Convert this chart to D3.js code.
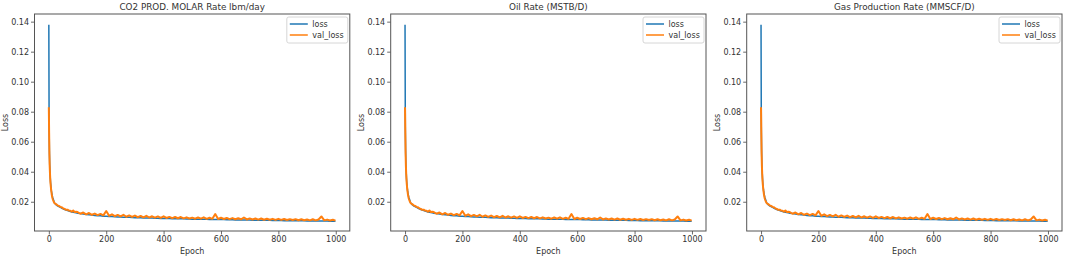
<!DOCTYPE html>
<html>
<head>
<meta charset="utf-8">
<script src="https://cdn.jsdelivr.net/npm/d3@7"></script>
<style>
  body { margin: 0; background: #fff; }
  svg text { font-family: "DejaVu Sans", sans-serif; fill: #333; }
</style>
</head>
<body>
<div id="vizcontainer"></div>
<script>
const width = 1065,
  height = 257;

const titles = ['CO2 PROD. MOLAR Rate lbm/day', 'Oil Rate (MSTB/D)', 'Gas Production Rate (MMSCF/D)'];
const seriesNames = ['loss', 'val_loss'];
const colors = ['#1f77b4', '#ff7f0e'];
const yTicks = [0.02, 0.04, 0.06, 0.08, 0.10, 0.12, 0.14];
const xTicks = [0, 200, 400, 600, 800, 1000];

// epochs: every epoch to 20, then every 5 to 95, then every 10
const epochs = [
  0, 1, 2, 3, 4, 5, 6, 7, 8, 9, 10, 11, 12, 13, 14, 15, 16, 17, 18, 19, 20,
  25, 30, 35, 40, 45, 50, 55, 60, 65, 70, 75, 80, 85, 90, 95,
  100, 110, 120, 130, 140, 150, 160, 170, 180, 190,
  200, 210, 220, 230, 240, 250, 260, 270, 280, 290,
  300, 310, 320, 330, 340, 350, 360, 370, 380, 390,
  400, 410, 420, 430, 440, 450, 460, 470, 480, 490,
  500, 510, 520, 530, 540, 550, 560, 570, 580, 590,
  600, 610, 620, 630, 640, 650, 660, 670, 680, 690,
  700, 710, 720, 730, 740, 750, 760, 770, 780, 790,
  800, 810, 820, 830, 840, 850, 860, 870, 880, 890,
  900, 910, 920, 930, 940, 950, 960, 970, 980, 990, 999
];

const loss = [
  0.138, 0.070, 0.054, 0.045, 0.040, 0.036, 0.033, 0.031, 0.029, 0.027, 0.026,
  0.025, 0.024, 0.023, 0.0225, 0.022, 0.0214, 0.0208, 0.0202, 0.0197, 0.0192,
  0.0180, 0.0173, 0.0167, 0.0162, 0.0157, 0.0153, 0.0148, 0.0144, 0.0141, 0.0138,
  0.0135, 0.0132, 0.0130, 0.0128, 0.0126,
  0.0124, 0.0121, 0.0118, 0.0115, 0.0113, 0.0111, 0.0109, 0.0107, 0.0106, 0.0104,
  0.0103, 0.0102, 0.0101, 0.0100, 0.0099, 0.0098, 0.0097, 0.0096, 0.0096, 0.0095,
  0.0094, 0.0093, 0.0093, 0.0092, 0.0092, 0.0091, 0.0091, 0.0090, 0.0090, 0.0089,
  0.0089, 0.0088, 0.0088, 0.0087, 0.0087, 0.0086, 0.0086, 0.0086, 0.0085, 0.0085,
  0.0084, 0.0084, 0.0084, 0.0083, 0.0083, 0.0083, 0.0082, 0.0082, 0.0082, 0.0081,
  0.0081, 0.0081, 0.0080, 0.0080, 0.0080, 0.0079, 0.0079, 0.0079, 0.0078, 0.0078,
  0.0078, 0.0077, 0.0077, 0.0077, 0.0077, 0.0076, 0.0076, 0.0076, 0.0075, 0.0075,
  0.0075, 0.0075, 0.0074, 0.0074, 0.0074, 0.0074, 0.0073, 0.0073, 0.0073, 0.0073,
  0.0072, 0.0072, 0.0072, 0.0072, 0.0071, 0.0071, 0.0071, 0.0071, 0.0070, 0.0070, 0.0070
];

const valLoss = [
  0.083, 0.066, 0.052, 0.044, 0.039, 0.035, 0.032, 0.030, 0.028, 0.0265, 0.025,
  0.024, 0.023, 0.0222, 0.0215, 0.021, 0.0205, 0.0200, 0.0197, 0.0193, 0.0190,
  0.0184, 0.0176, 0.0172, 0.0166, 0.0163, 0.0156, 0.0152, 0.0146, 0.0147, 0.0141,
  0.0140, 0.0134, 0.0142, 0.0131, 0.0133,
  0.0131, 0.0120, 0.0128, 0.0116, 0.0125, 0.0113, 0.0121, 0.0111, 0.0119, 0.0109,
  0.0138, 0.0106, 0.0116, 0.0104, 0.0112, 0.0103, 0.0113, 0.0100, 0.0109, 0.0099,
  0.0108, 0.0097, 0.0105, 0.0096, 0.0106, 0.0095, 0.0103, 0.0094, 0.0102, 0.0093,
  0.0103, 0.0092, 0.0099, 0.0091, 0.0098, 0.0090, 0.0098, 0.0089, 0.0096, 0.0088,
  0.0094, 0.0087, 0.0095, 0.0087, 0.0096, 0.0086, 0.0093, 0.0086, 0.0118, 0.0085,
  0.0093, 0.0085, 0.0092, 0.0084, 0.0091, 0.0083, 0.0090, 0.0083, 0.0095, 0.0082,
  0.0089, 0.0082, 0.0088, 0.0081, 0.0088, 0.0080, 0.0087, 0.0080, 0.0086, 0.0079,
  0.0086, 0.0079, 0.0085, 0.0078, 0.0084, 0.0078, 0.0084, 0.0077, 0.0083, 0.0077,
  0.0082, 0.0076, 0.0083, 0.0076, 0.0082, 0.0102, 0.0076, 0.0081, 0.0075, 0.0080, 0.0074
];

const panelLeft = [34.5, 390.7, 746.7];
const panelWidth = 315.3;
const plotTop = 14, plotBottom = 231;

let viz = d3.select('#vizcontainer')
  .append('svg')
  .attr('width', width)
  .attr('height', height);

titles.forEach((title, i) => {
  const left = panelLeft[i], right = left + panelWidth;

  const x = d3.scaleLinear().domain([-49.95, 1048.95]).range([left, right]);
  const y = d3.scaleLinear().domain([0.0005, 0.1451]).range([plotBottom, plotTop]);

  const g = viz.append('g');

  // axes
  g.append('g')
    .attr('transform', `translate(0,${plotBottom})`)
    .call(d3.axisBottom(x).tickValues(xTicks).tickSize(3.5).tickPadding(2).tickFormat(d3.format('d')))
    .call(a => a.select('.domain').remove())
    .selectAll('text').style('font-size', '8px');

  g.append('g')
    .attr('transform', `translate(${left},0)`)
    .call(d3.axisLeft(y).tickValues(yTicks).tickSize(3.5).tickPadding(2).tickFormat(d3.format('.2f')))
    .call(a => a.select('.domain').remove())
    .selectAll('text').style('font-size', '8px');

  g.selectAll('.tick line').attr('stroke', '#444').attr('stroke-width', 0.8);

  // lines
  const series = [loss, valLoss];
  series.forEach((vals, k) => {
    const line = d3.line()
      .x((d, j) => x(epochs[j]))
      .y(d => y(d));
    g.append('path')
      .datum(vals)
      .attr('fill', 'none')
      .attr('stroke', colors[k])
      .attr('stroke-width', k === 1 ? 2 : 1.5)
      .attr('stroke-linejoin', 'round')
      .attr('d', line);
  });

  // frame
  g.append('rect')
    .attr('x', left).attr('y', plotTop)
    .attr('width', panelWidth).attr('height', plotBottom - plotTop)
    .attr('fill', 'none')
    .attr('stroke', '#555')
    .attr('stroke-width', 1);

  // title and labels
  g.append('text')
    .attr('x', (left + right) / 2).attr('y', 10)
    .attr('text-anchor', 'middle')
    .style('font-size', '8.8px')
    .text(title);

  g.append('text')
    .attr('x', (left + right) / 2).attr('y', 253.5)
    .attr('text-anchor', 'middle')
    .style('font-size', '8px')
    .text('Epoch');

  g.append('text')
    .attr('transform', `translate(${left - 26.5},${(plotTop + plotBottom) / 2}) rotate(-90)`)
    .attr('text-anchor', 'middle')
    .style('font-size', '8px')
    .text('Loss');

  // legend
  const lg = g.append('g').attr('transform', `translate(${right - 63},${plotTop + 3})`);
  lg.append('rect')
    .attr('width', 61).attr('height', 26)
    .attr('rx', 2)
    .attr('fill', '#fff')
    .attr('fill-opacity', 0.8)
    .attr('stroke', '#ccc')
    .attr('stroke-width', 0.8);
  seriesNames.forEach((name, k) => {
    const yy = 7 + k * 11;
    lg.append('line')
      .attr('x1', 3).attr('x2', 21)
      .attr('y1', yy).attr('y2', yy)
      .attr('stroke', colors[k])
      .attr('stroke-width', 1.5);
    lg.append('text')
      .attr('x', 25.5).attr('y', yy + 3)
      .style('font-size', '8px')
      .text(name);
  });
});
</script>
</body>
</html>
